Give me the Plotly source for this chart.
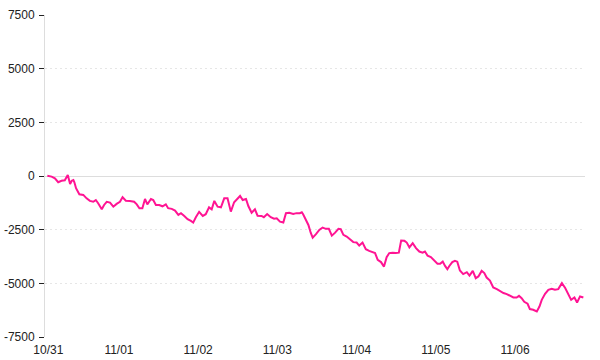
import plotly.graph_objects as go

# hours elapsed since 10/31 00:00
hours = [
    2.3, 3.6, 4.6, 5.6, 6.6, 7.6, 8.5, 9.2, 9.7, 10.2, 10.5, 11.0, 12.0, 13.2, 14.2, 15.2, 16.2, 17.0, 17.7, 18.8,
    19.5, 20.3, 21.3, 22.3, 23.3, 24.3, 25.1, 26.1, 27.3, 28.6, 29.4, 30.2, 31.1, 31.9, 32.6, 33.7, 34.4, 35.2, 36.2, 37.2,
    38.2, 38.9, 40.0, 41.0, 42.0, 42.8, 43.8, 44.8, 45.8, 46.5, 47.3, 48.3, 49.4, 50.3, 51.3, 52.1, 52.9, 53.9, 54.9, 55.9,
    56.9, 57.9, 58.9, 60.0, 60.7, 61.5, 62.5, 63.2, 64.2, 65.2, 66.0, 67.2, 67.9, 68.9, 70.0, 71.0, 71.8, 72.8, 73.8, 74.6,
    75.6, 76.8, 77.8, 78.8, 79.4, 79.8, 80.7, 81.4, 82.1, 82.7, 83.7, 84.7, 85.7, 86.7, 87.6, 88.5, 89.5, 90.5, 91.2, 92.0,
    93.0, 94.0, 95.0, 96.0, 96.8, 97.8, 98.8, 99.8, 100.9, 101.6, 102.4, 103.4, 104.3, 105.1, 105.9, 106.9, 107.9, 108.8, 109.5, 110.5,
    111.2, 112.0, 113.0, 114.0, 115.0, 116.0, 116.7, 117.5, 118.5, 119.5, 120.5, 121.3, 122.1, 122.8, 123.5, 124.1, 125.0, 125.8, 126.5, 127.3,
    128.3, 129.4, 130.2, 131.2, 132.1, 132.9, 133.9, 134.7, 135.4, 136.4, 137.4, 138.5, 139.5, 140.5, 141.5, 142.5, 143.5, 144.5, 145.2, 146.0,
    146.8, 147.8, 148.5, 149.5, 150.6, 151.4, 152.1, 153.1, 154.1, 155.1, 156.1, 157.1, 158.2, 159.2, 160.2, 161.0, 162.0, 162.8, 163.7, 164.7,
]

profit = [
    10, -30, -110, -290, -220, -200, 50, -370, -220, -190, -290, -570, -850, -880, -1040, -1160, -1200, -1120, -1270, -1550,
    -1350, -1200, -1240, -1430, -1300, -1200, -990, -1150, -1160, -1200, -1320, -1500, -1500, -1070, -1320, -1070, -1120, -1350, -1350, -1410,
    -1320, -1500, -1530, -1610, -1810, -1730, -1860, -2010, -2090, -2170, -1920, -1670, -1860, -1780, -1460, -1550, -1160, -1430, -1460, -1040,
    -1040, -1660, -1220, -1040, -930, -1120, -1070, -1400, -1710, -1550, -1850, -1860, -1920, -1770, -1920, -1990, -1970, -2130, -2170, -1730,
    -1710, -1770, -1730, -1730, -1690, -1780, -2050, -2280, -2640, -2870, -2710, -2510, -2400, -2460, -2460, -2780, -2640, -2460, -2480, -2740,
    -2820, -2940, -3080, -3100, -3240, -3100, -3410, -3490, -3530, -3590, -3910, -4010, -4220, -3780, -3590, -3570, -3590, -3570, -3010, -3020,
    -3100, -3330, -3130, -3360, -3520, -3570, -3520, -3710, -3780, -3950, -4090, -4090, -3990, -4190, -4340, -4190, -4010, -3950, -3990, -4400,
    -4570, -4480, -4640, -4420, -4760, -4680, -4420, -4520, -4730, -4870, -5190, -5270, -5380, -5450, -5500, -5580, -5660, -5660, -5580, -5690,
    -5860, -5950, -6200, -6230, -6310, -6080, -5770, -5490, -5300, -5250, -5300, -5270, -4990, -5220, -5570, -5770, -5660, -5890, -5610, -5660,
]

x_tick_hours = [2.6, 24, 48, 72, 96, 120, 144]
x_tick_labels = ["10/31", "11/01", "11/02", "11/03", "11/04", "11/05", "11/06"]
y_tick_values = [-7500, -5000, -2500, 0, 2500, 5000, 7500]
y_tick_labels = ["-7500", "-5000", "-2500", "0", "2500", "5000", "7500"]

font_family = "Liberation Sans"

fig = go.Figure()
fig.add_trace(go.Scatter(
    x=hours, y=profit, mode="lines",
    line=dict(color="#ff1493", width=2),
    hoverinfo="skip", showlegend=False,
))

fig.update_layout(
    width=600, height=360,
    margin=dict(l=45, r=15, t=15, b=23, pad=0),
    paper_bgcolor="white", plot_bgcolor="white",
    font=dict(family=font_family, size=12, color="#222"),
    showlegend=False,
)

fig.update_xaxes(
    range=[1.6, 165.2], automargin=False,
    tickmode="array", tickvals=x_tick_hours, ticktext=x_tick_labels,
    showgrid=False, zeroline=False, showline=False, ticks="",
    ticklabelstandoff=4,
    tickfont=dict(family=font_family, size=12, color="#222"),
)

fig.update_yaxes(
    range=[-7500, 7500], automargin=False,
    tickmode="array", tickvals=y_tick_values, ticktext=y_tick_labels,
    showgrid=True, gridcolor="#e6e6e6", gridwidth=1, griddash="2px,3px",
    zeroline=True, zerolinecolor="#dddddd", zerolinewidth=1,
    showline=True, linecolor="#dddddd", linewidth=1,
    ticks="outside", ticklen=5, tickcolor="#222", tickwidth=1,
    ticklabelstandoff=2,
    tickfont=dict(family=font_family, size=12, color="#222"),
)

fig.write_html("out.html")
